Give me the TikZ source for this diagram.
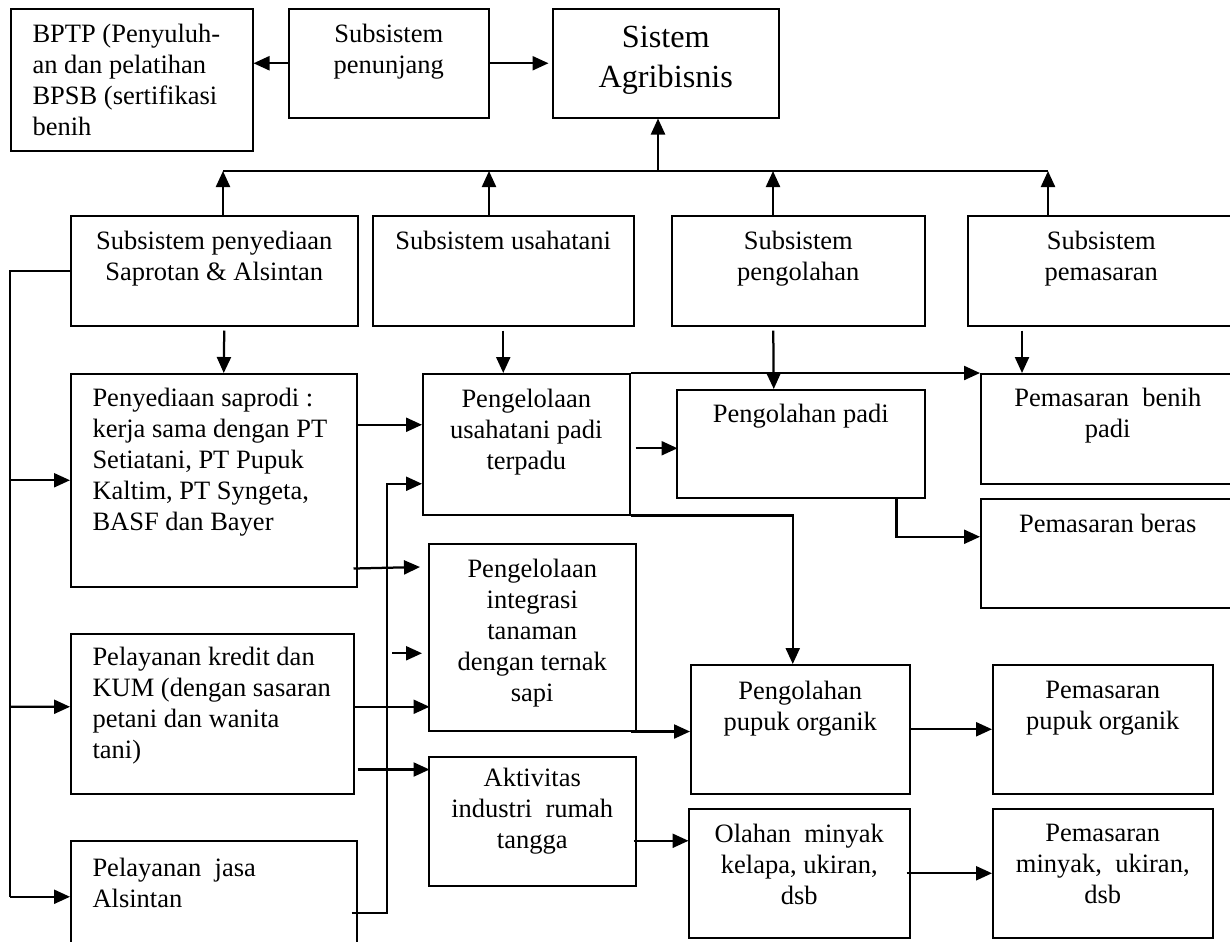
\documentclass[tikz,border=0pt]{standalone}
\usepackage{fontspec}
\setmainfont{Liberation Serif}
\usetikzlibrary{positioning,arrows.meta}

\begin{document}
\begin{tikzpicture}[x=0.4pt, y=-0.4pt,
    box/.style 2 args = {draw, line width=0.6pt, inner sep=0pt, anchor=north west,
        minimum width=#1*0.4pt, minimum height=#2*0.4pt},
    txt/.style = {align=center, inner sep=0pt, font=\fontsize{10.6}{12.4}\selectfont},
    txtl/.style = {txt, align=left},
    arr/.style = {-{Triangle[length=6.4pt,width=5.6pt]}, line width=0.9pt},
    line/.style = {line width=0.8pt}]
        \useasboundingbox (0,0) rectangle (1230,941);
        % boxes
        \node[box={242}{142}] (bptp) at (10,8) {};
        \node[box={200}{109}] (pen) at (288,8) {};
        \node[box={226}{109}] (sis) at (552,8) {};
        \node[box={287}{110}] (sap) at (70,215) {};
        \node[box={261}{110}] (usa) at (372,215) {};
        \node[box={253}{110}] (olah) at (671,215) {};
        \node[box={267}{110}] (pas) at (967,215) {};
        \node[box={286}{213}] (peny) at (70,373) {};
        \node[box={207}{141}] (pusaha) at (422,373) {};
        \node[box={248}{108}] (pengpadi) at (676,389) {};
        \node[box={254}{110}] (pbenih) at (980,373) {};
        \node[box={254}{109}] (pberas) at (980,498) {};
        \node[box={207}{187}] (integ) at (428,543) {};
        \node[box={283}{160}] (kredit) at (70,633) {};
        \node[box={207}{129}] (aktiv) at (428,756) {};
        \node[box={286}{112}] (jasa) at (70,840) {};
        \node[box={219}{129}] (ppupuk) at (690,664) {};
        \node[box={221}{129}] (olahan) at (688,808) {};
        \node[box={220}{129}] (pempupuk) at (992,664) {};
        \node[box={220}{129}] (pemminyak) at (992,808) {};
        % texts
        \node[txtl, below right=6.4pt and 8.8pt of bptp.north west] (bptpt) {BPTP (Penyuluh-\\an dan pelatihan\\BPSB (sertifikasi\\benih};
        \node[txt, below=6.4pt of pen.north] (pent) {Subsistem\\penunjang};
        \node[txt, font=\fontsize{12.9}{16}\selectfont, below=7.2pt of sis.north] (sist) {Sistem\\Agribisnis};
        \node[txt, below=6.4pt of sap.north] (sapt) {Subsistem penyediaan\\Saprotan \& Alsintan};
        \node[txt, below=6.4pt of usa.north] (usat) {Subsistem usahatani};
        \node[txt, below=6.4pt of olah.north] (olaht) {Subsistem\\pengolahan};
        \node[txt, below=6.4pt of pas.north] (past) {Subsistem\\pemasaran};
        \node[txtl, below right=6pt and 8.8pt of peny.north west] (penyt) {Penyediaan saprodi :\\kerja sama dengan PT\\Setiatani, PT Pupuk\\Kaltim, PT Syngeta,\\BASF dan Bayer};
        \node[txt, below=6.4pt of pusaha.north] (pusahat) {Pengelolaan\\usahatani padi\\terpadu};
        \node[txt, below=6pt of pengpadi.north] (pengpadit) {Pengolahan padi};
        \node[txt, below=6pt of pbenih.north] (pbeniht) {Pemasaran\ \ benih\\padi};
        \node[txt, below=6.4pt of pberas.north] (pberast) {Pemasaran beras};
        \node[txt, below=6.4pt of integ.north] (integt) {Pengelolaan\\integrasi\\tanaman\\dengan ternak\\sapi};
        \node[txtl, below right=5.6pt and 8.8pt of kredit.north west] (kreditt) {Pelayanan kredit dan\\KUM (dengan sasaran\\petani dan wanita\\tani)};
        \node[txt, below=4.8pt of aktiv.north] (aktivt) {Aktivitas\\industri\ \ rumah\\tangga};
        \node[txtl, below right=7.2pt and 8.8pt of jasa.north west] (jasat) {Pelayanan\ \ jasa\\Alsintan};
        \node[txt, below=6.8pt of ppupuk.north] (ppupukt) {Pengolahan\\pupuk organik};
        \node[txt, below=6.4pt of olahan.north] (olahant) {Olahan\ \ minyak\\kelapa, ukiran,\\dsb};
        \node[txt, below=6.8pt of pempupuk.north] (pempupukt) {Pemasaran\\pupuk organik};
        \node[txt, below=6.4pt of pemminyak.north] (pemminyakt) {Pemasaran\\minyak,\ \ ukiran,\\dsb};
        % top
        \draw[arr] (pen.west) -- (pen.west -| bptp.east);
        \draw[arr] (pen.east) -- ++(59,0);
        \coordinate (bus) at (658,171);
        \coordinate (b1) at (223,171);
        \coordinate (b2) at (489,171);
        \coordinate (b3) at (773,171);
        \coordinate (b4) at (1048,171);
        \draw[line] (b1) -- (b4);
        \draw[arr] (bus) -- (bus |- sis.south);
        \draw[arr] (b1 |- sap.north) -- (b1);
        \draw[arr] (b2 |- usa.north) -- (b2);
        \draw[arr] (b3 |- olah.north) -- (b3);
        \draw[arr] (b4 |- pas.north) -- (b4);
        % subsystems down
        \draw[arr] ([shift={(10,4)}]sap.south) -- ([shift={(10,0)}]peny.north);
        \draw[arr] ([yshift=-1.6pt]usa.south) -- (usa.south |- pusaha.north);
        \draw[arr] ([shift={(-25,4)}]olah.south) -- ([shift={(-27,0)}]pengpadi.north);
        \draw[arr] ([shift={(55,4)}]pas.south west) -- ([shift={(42,0)}]pbenih.north west);
        % usahatani
        \draw[arr] (pusaha.north east) -- (pbenih.north west);
        \draw[arr] (pusaha.south east) -| ([xshift=-3pt]ppupuk.north);
        \draw[arr] ([shift={(5,4)}]pusaha.east) -- ++(42,0);
        \draw[arr] ([xshift=-11.6pt]pengpadi.south east) |- ([yshift=6.6pt]pberas.west);
        % left trunk
        \coordinate (trunk) at (10,0);
        \draw[line] (sap.west) -| (trunk |- jasa.west);
        \draw[arr] (trunk |- peny.west) -- (peny.west);
        \draw[arr] ([shift={(-60,-7)}]kredit.west) -- ([yshift=2.8pt]kredit.west);
        \draw[arr] (trunk |- jasa.west) -- (jasa.west);
        % services
        \draw[arr] ([shift={(-66,-19.5)}]pusaha.west) -- ([shift={(0,-19.5)}]pusaha.west);
        \draw[arr] ([shift={(-4,-19)}]peny.south east) -- ([shift={(-8,24)}]integ.north west);
        \draw[arr] ([shift={(-36,16)}]integ.west) -- ([shift={(-6,16)}]integ.west);
        \draw[arr] ([yshift=2.8pt]kredit.east) -- ++(75,0);
        \draw[arr] ([shift={(3,-25)}]kredit.south east) -- ++(72,0);
        \draw[arr] ([shift={(-6,16)}]jasa.east) -| ([shift={(-35,39.5)}]pusaha.west) -- ([shift={(0,39.5)}]pusaha.west);
        % products
        \draw[arr] ([xshift=-2.4pt]integ.south east) -- (integ.south east -| ppupuk.west);
        \draw[arr] ([shift={(-3,19.5)}]aktiv.east) -- ++(55,0);
        \draw[arr] (ppupuk.east) -- (pempupuk.west);
        \draw[arr] ([xshift=-1.6pt]olahan.east) -- (pemminyak.west);
\end{tikzpicture}
\end{document}
